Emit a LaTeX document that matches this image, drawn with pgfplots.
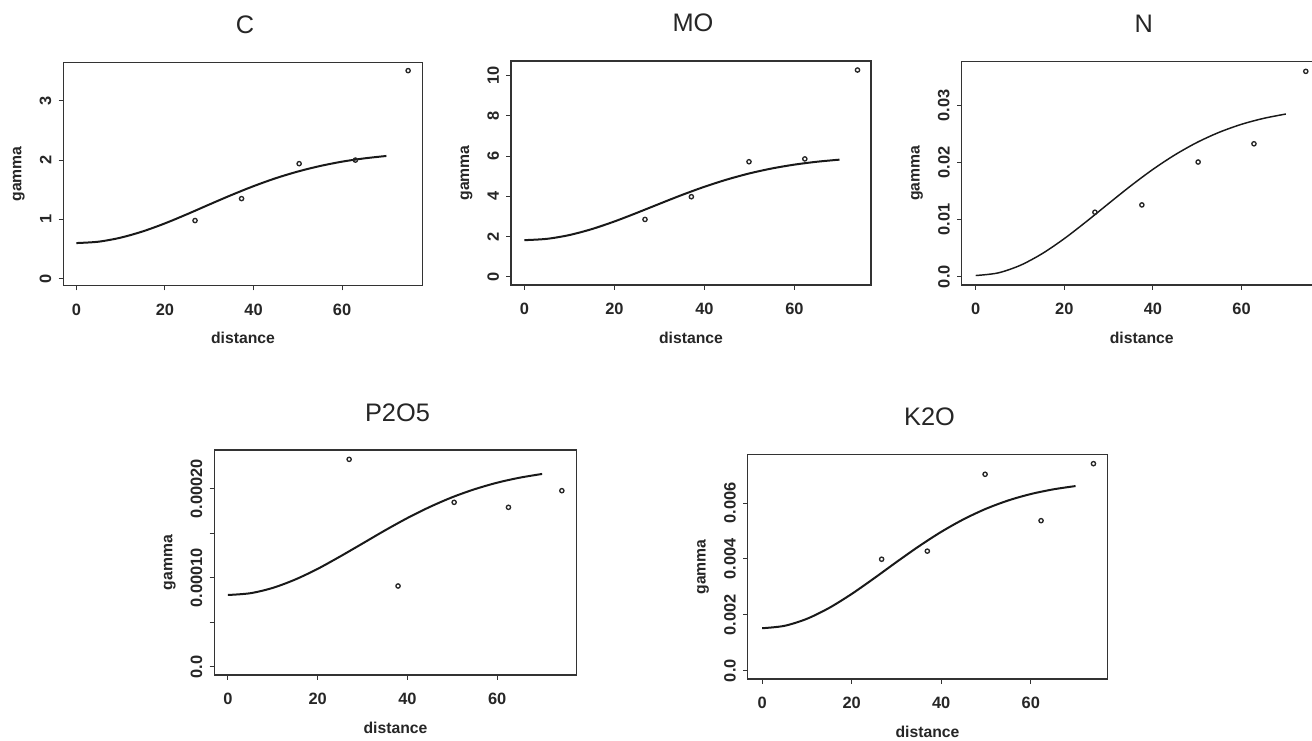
\documentclass[border=0pt]{standalone}
\usepackage{fontspec}
\setmainfont{Liberation Sans}
\usepackage{pgfplots}
\pgfplotsset{compat=1.18}
\pgfplotsset{
  vg/.style={
    scale only axis, anchor=south west,
    axis line style={black!80, line width=1.05pt},
    tick align=outside, tick style={black!80, line width=0.8pt}, major tick length=3.5pt,
    xtick pos=bottom, ytick pos=left, scaled y ticks=false, scaled x ticks=false,
    xtick={0,20,40,60}, xticklabels={0,20,40,60},
    tick label style={font=\fontsize{12.3}{14}\selectfont\bfseries, text=black!85},
    xticklabel style={anchor=north, inner sep=0pt, yshift=-10.2pt},
    yticklabel style={rotate=90, anchor=south, inner sep=0pt, yshift=5.35pt},
    title style={at={(axis description cs:0.5,1)}, anchor=base, yshift=15.75pt, xshift=1.5pt,
                 font=\fontsize{19}{22}\selectfont, text=black!85, inner sep=0pt},
    xlabel style={at={(axis description cs:0.5,0)}, anchor=base, yshift=-43.5pt,
                  font=\fontsize{11.8}{14}\selectfont\bfseries, text=black!85, inner sep=0pt},
    ylabel style={at={(axis description cs:0,0.5)}, anchor=base, yshift=31.5pt,
                  font=\fontsize{11.8}{14}\selectfont\bfseries, text=black!85, inner sep=0pt},
    xlabel=distance, ylabel=gamma,
    clip=false,
  },
  pts/.style={only marks, mark=o, mark size=1.6pt, black!85, mark options={line width=1pt}},
  crv/.style={black!90, line width=1.5pt, smooth, mark=none},
}
\begin{document}
\begin{tikzpicture}
\path[use as bounding box] (0,0) rectangle (984pt,-555.75pt);

% C
\begin{axis}[vg, at={(47.5pt,-214.3pt)}, width=269.55pt, height=167.55pt,
  xmin=-2.93, xmax=78.2, ymin=-0.12, ymax=3.65,
  ytick={0,1,2,3}, yticklabels={0,1,2,3}, title={C}]
\addplot[crv] coordinates {(0,0.600) (5,0.623) (10,0.691) (15,0.797) (20,0.932) (25,1.087) (30,1.250) (35,1.410) (40,1.560) (45,1.694) (50,1.807) (55,1.900) (60,1.974) (65,2.029) (70,2.070)};
\addplot[pts] coordinates {(26.8,0.98) (37.3,1.35) (50.3,1.94) (63.0,2.00) (74.9,3.51)};
\end{axis}

% MO
\begin{axis}[vg, at={(383.25pt,-213.75pt)}, width=270pt, height=168pt,
  xmin=-2.96, xmax=77.0, ymin=-0.41, ymax=10.73,
  ytick={0,2,4,6,8,10}, yticklabels={0,2,4,6,8,10}, title={MO}]
\addplot[crv] coordinates {(0,1.820) (5,1.885) (10,2.074) (15,2.371) (20,2.749) (25,3.178) (30,3.627) (35,4.067) (40,4.475) (45,4.835) (50,5.140) (55,5.386) (60,5.577) (65,5.720) (70,5.824)};
\addplot[pts] coordinates {(26.8,2.85) (37.1,3.98) (49.9,5.72) (62.3,5.86) (74.0,10.28)};
\end{axis}

% N
\begin{axis}[vg, at={(721.3pt,-213.75pt)}, width=270pt, height=167.5pt,
  xmin=-3.16, xmax=78.1, ymin=-0.00146, ymax=0.0377,
  ytick={0,0.01,0.02,0.03}, yticklabels={0.0,0.01,0.02,0.03}, title={N}]
\addplot[crv, line width=1.1pt] coordinates {(0,0.00020) (5,0.00065) (10,0.00197) (15,0.00404) (20,0.00668) (25,0.00968) (30,0.01283) (35,0.01593) (40,0.01882) (45,0.02138) (50,0.02356) (55,0.02533) (60,0.02672) (65,0.02776) (70,0.02852)};
\addplot[pts] coordinates {(26.9,0.0113) (37.5,0.01258) (50.2,0.0201) (62.8,0.0233) (74.5,0.0360)};
\end{axis}

% P2O5
\begin{axis}[vg, at={(160.7pt,-506.25pt)}, width=271.8pt, height=168.75pt,
  xmin=-3.05, xmax=77.7, ymin=-0.0000093, ymax=0.0002435,
  ytick={0,0.00005,0.0001,0.00015,0.0002}, yticklabels={0.0,,0.00010,,0.00020}, title={P2O5}]
\addplot[crv] coordinates {(0,0.0000806) (5,0.0000826) (10,0.0000886) (15,0.0000980) (20,0.0001100) (25,0.0001239) (30,0.0001385) (35,0.0001532) (40,0.0001671) (45,0.0001796) (50,0.0001905) (55,0.0001995) (60,0.0002068) (65,0.0002124) (70,0.0002166)};
\addplot[pts] coordinates {(27.0,0.000233) (37.9,0.0000907) (50.4,0.0001847) (62.5,0.0001791) (74.4,0.0001978)};
\end{axis}

% K2O
\begin{axis}[vg, at={(560.8pt,-509.25pt)}, width=269.7pt, height=168.2pt,
  xmin=-3.2, xmax=77.1, ymin=-0.000297, ymax=0.00773,
  ytick={0,0.002,0.004,0.006}, yticklabels={0.0,0.002,0.004,0.006}, title={K2O}]
\addplot[crv] coordinates {(0,0.001520) (5,0.001606) (10,0.001857) (15,0.002249) (20,0.002746) (25,0.003306) (30,0.003887) (35,0.004451) (40,0.004969) (45,0.005420) (50,0.005796) (55,0.006095) (60,0.006323) (65,0.006490) (70,0.006609)};
\addplot[pts] coordinates {(26.7,0.00399) (36.9,0.00428) (49.8,0.00703) (62.3,0.00537) (74.0,0.00741)};
\end{axis}
\end{tikzpicture}
\end{document}
